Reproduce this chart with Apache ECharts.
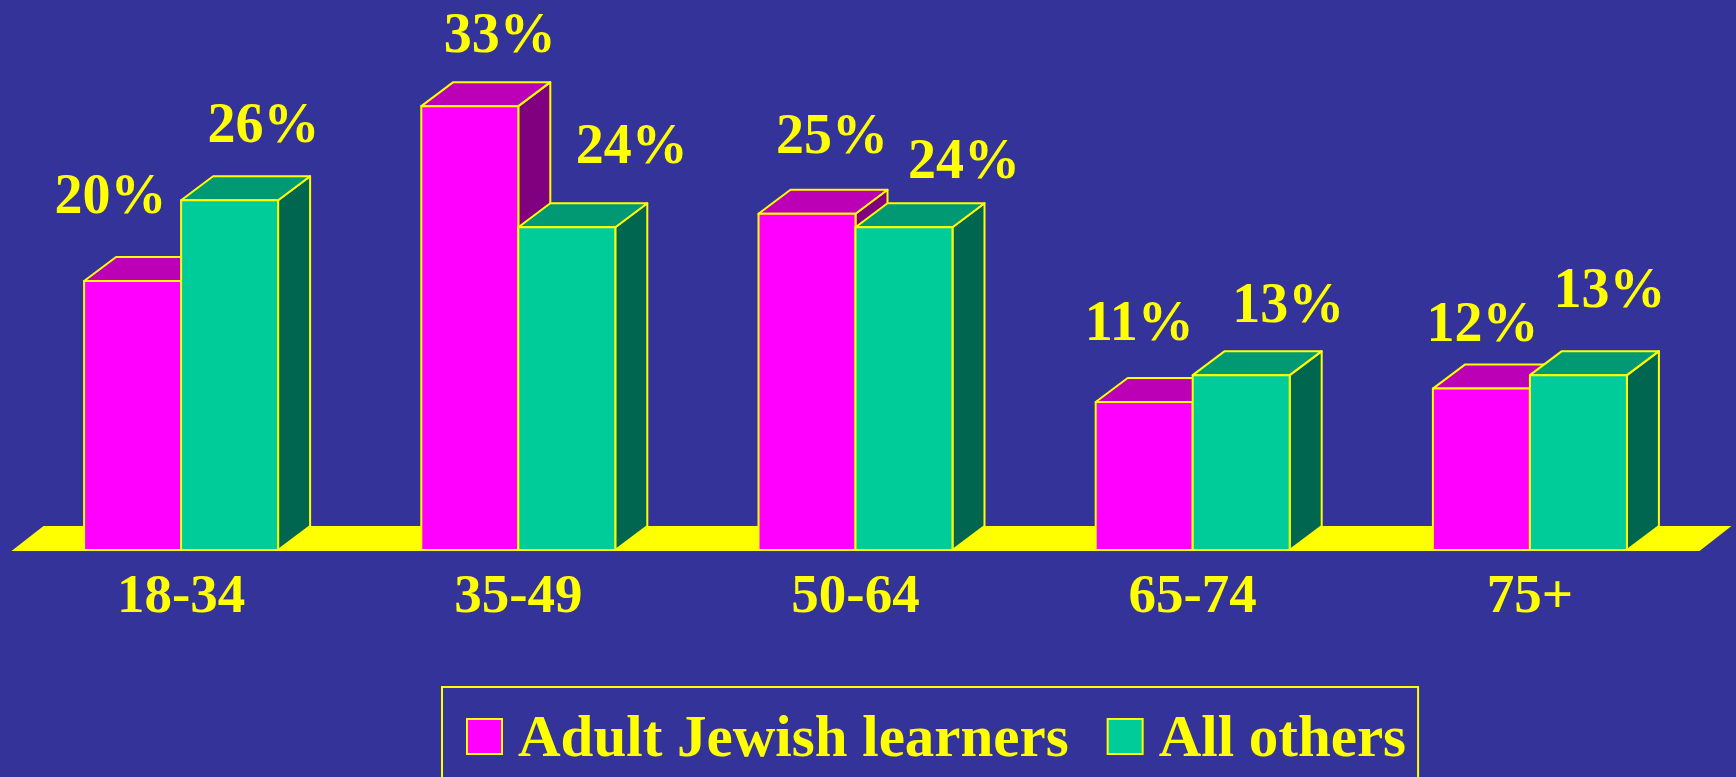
<!DOCTYPE html>
<html><head><meta charset="utf-8">
<style>html,body{margin:0;padding:0;background:#333399}#c{width:1736px;height:777px}</style>
<script src="https://cdn.jsdelivr.net/npm/echarts@6/dist/echarts.min.js"></script>
</head><body><div id="c"></div>
<script>
const categories = ['18-34', '35-49', '50-64', '65-74', '75+'];
const learners = [20, 33, 25, 11, 12];
const others = [26, 24, 24, 13, 13];
const seriesNames = ['Adult Jewish learners', 'All others'];

// hand-placed label nudges relative to each bar's top centre (px)
const learnerNudge = [[-22,-82],[30,-69],[25,-75],[-5,-77],[1,-62]];
const otherNudge = [[34,-73],[65,-79],[60,-64],[47,-68],[31,-83]];

const YEL = '#FFFF00', DX = 32, DY = 24, BW = 97, LW = 2;
const FONT = 'bold 56px "Liberation Serif"';

function bars3d(values, nudges, side, cols) {
  return function (params, api) {
    const i = api.value(0), v = api.value(1);
    const top = api.coord([i, v]), base = api.coord([i, 0]);
    const x0 = top[0] + (side < 0 ? -BW : 0), x1 = x0 + BW, yt = top[1], yb = base[1];
    const st = { stroke: YEL, lineWidth: LW, lineJoin: 'round' };
    const poly = (pts, fill) => ({ type: 'polygon', shape: { points: pts }, style: Object.assign({ fill }, st) });
    const cx = (x0 + x1) / 2, n = nudges[params.dataIndex];
    return { type: 'group', children: [
      poly([[x1, yb], [x1 + DX, yb - DY], [x1 + DX, yt - DY], [x1, yt]], cols[2]),
      poly([[x0, yt], [x0 + DX, yt - DY], [x1 + DX, yt - DY], [x1, yt]], cols[1]),
      poly([[x0, yb], [x1, yb], [x1, yt], [x0, yt]], cols[0]),
      { type: 'text', z2: 50, style: { text: v + '%', x: cx + n[0], y: yt + n[1], align: 'center', verticalAlign: 'middle', font: FONT, fill: YEL } }
    ]};
  };
}
function mkSeries(name, values, nudges, side, cols) {
  return { type: 'custom', name, coordinateSystem: 'cartesian2d', clip: false,
    itemStyle: { color: cols[0], borderColor: YEL, borderWidth: 2 },
    encode: { x: 0, y: 1 },
    data: values.map((v, i) => [i, v]),
    renderItem: bars3d(values, nudges, side, cols) };
}
const floorSeries = { type: 'custom', name: 'floor', coordinateSystem: 'cartesian2d', clip: false, silent: true,
  data: [[0, 0]], encode: { x: 0, y: 1 }, z: 1,
  renderItem: function (params, api) {
    const c = params.coordSys, y = api.coord([0, 0])[1];
    return { type: 'polygon', shape: { points: [[c.x - 1, y + 1], [c.x + DX - 1, y - DY], [c.x + c.width + DX + 1, y - DY], [c.x + c.width + 1, y + 1]] }, style: { fill: YEL } };
  } };

const chart = echarts.init(document.getElementById('c'), null, { renderer: 'canvas' });
chart.setOption({
  animation: false,
  backgroundColor: '#333399',
  grid: { left: 12.5, right: 37.5, top: 12, bottom: 227 },
  xAxis: { type: 'category', data: categories, axisLine: { show: false }, axisTick: { show: false }, splitLine: { show: false },
    axisLabel: { color: YEL, fontFamily: 'Liberation Serif', fontWeight: 'bold', fontSize: 55, margin: 20 } },
  yAxis: { type: 'value', min: 0, max: 40, show: false },
  legend: { data: seriesNames, left: 442, top: 687, padding: [24, 12, 60, 24], icon: 'rect', itemWidth: 35, itemHeight: 35, itemGap: 38,
    borderColor: YEL, borderWidth: 2, selectedMode: false,
    formatter: '{a|{name}}',
    textStyle: { color: YEL, fontFamily: 'Liberation Serif', fontWeight: 'bold', fontSize: 59,
      rich: { a: { color: YEL, fontFamily: 'Liberation Serif', fontWeight: 'bold', fontSize: 59, padding: [8, 0, 0, 11] } } } },
  series: [floorSeries,
    mkSeries(seriesNames[0], learners, learnerNudge, -1, ['#FF00FF', '#BB00B5', '#800080']),
    mkSeries(seriesNames[1], others, otherNudge, 1, ['#00CC99', '#009973', '#006650'])]
});
</script></body></html>
